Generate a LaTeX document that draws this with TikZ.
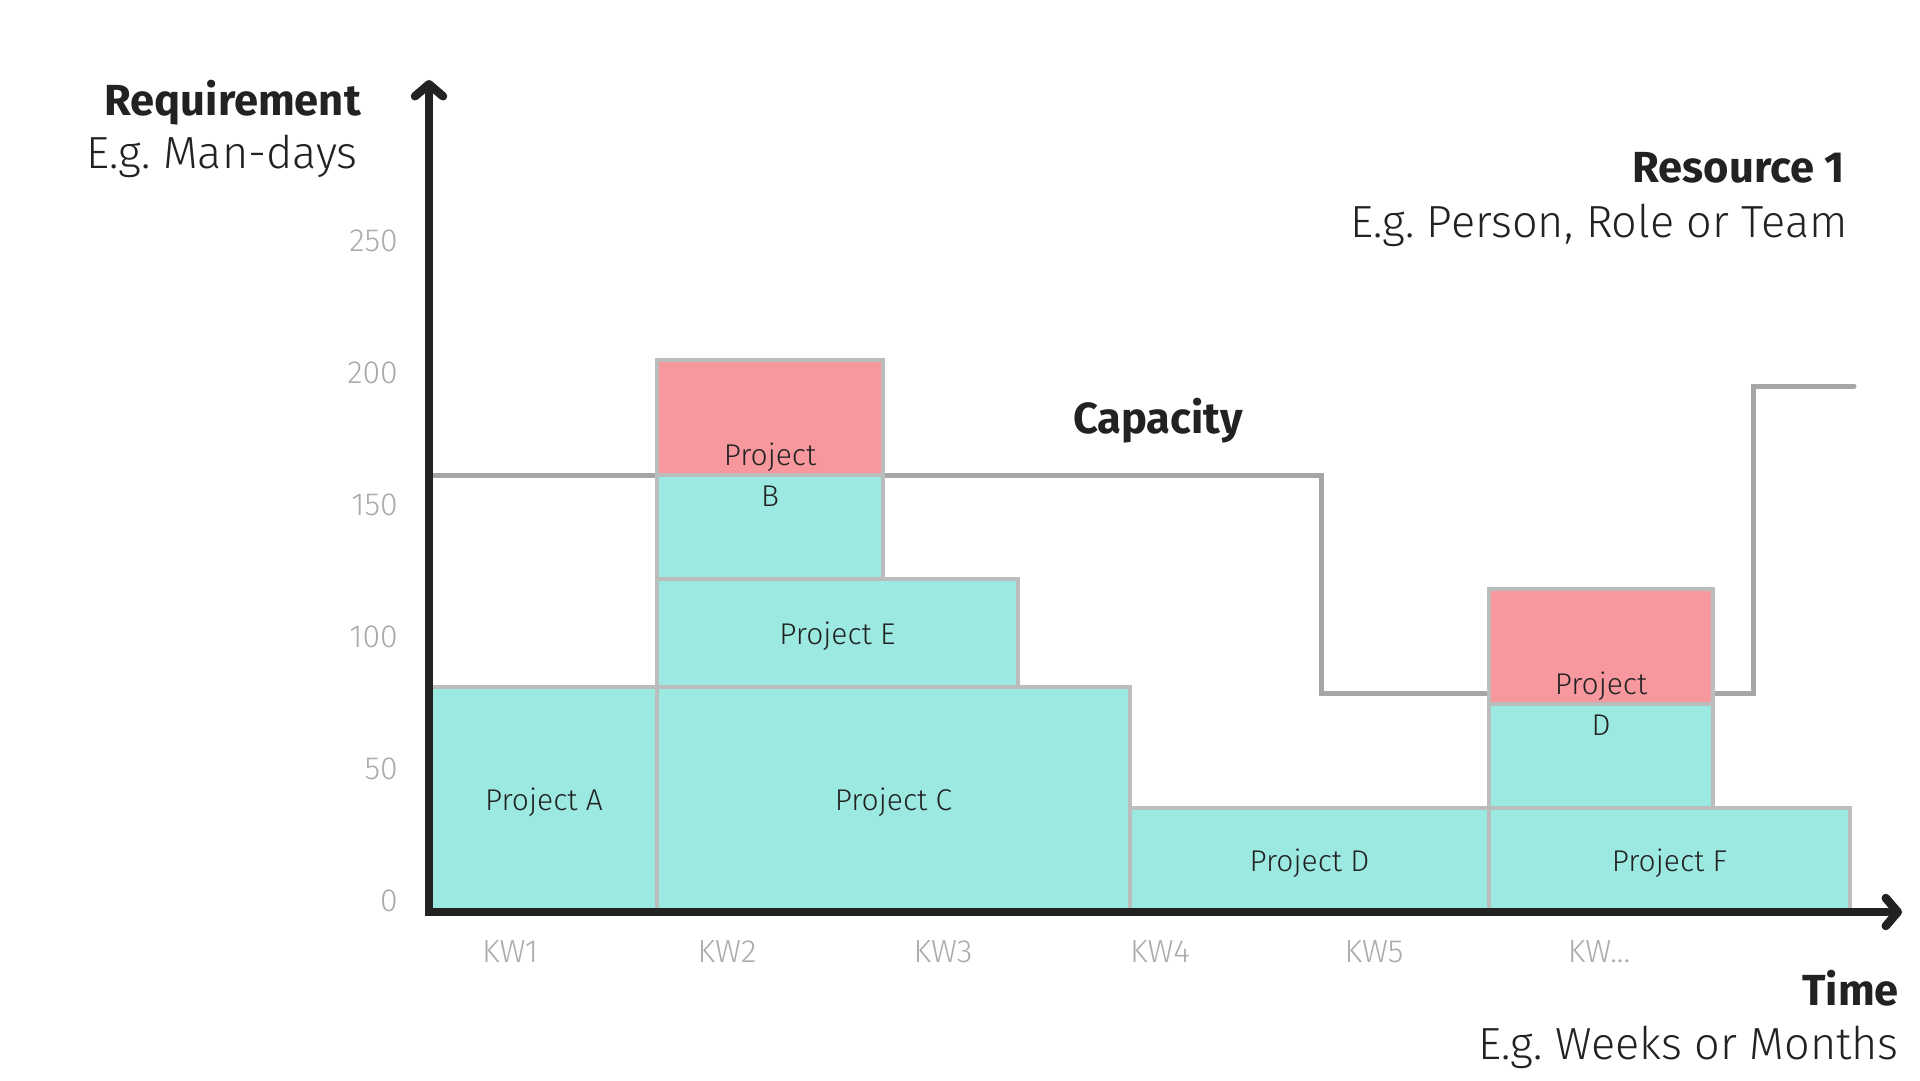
\documentclass[tikz,border=0pt]{standalone}
\usepackage{fontspec}
\setmainfont{Fira Sans Light}[BoldFont={Fira Sans Bold}]
\usetikzlibrary{arrows.meta}
\definecolor{ink}{HTML}{222222}
\definecolor{tealfill}{HTML}{9BE9E0}
\definecolor{pinkfill}{HTML}{F7989F}
\definecolor{barline}{HTML}{BBBDBD}
\definecolor{capline}{HTML}{A6A6A6}
\definecolor{ticktext}{HTML}{ABABAB}
\newcommand\kwmore{KW...}
\frenchspacing
\tikzset{
  bar/.style={draw=barline, line width=4pt, fill=tealfill, inner sep=0pt, outer sep=0pt,
    anchor=south west, text=ink, text depth=0pt, font=\fontsize{30}{41}\selectfont},
  overbar/.style={bar, fill=pinkfill},
  ticklabel/.style={text=ticktext, font=\fontsize{32}{38}\selectfont, inner sep=0pt},
  heading/.style={text=ink, font=\fontsize{43.5}{50}\selectfont\bfseries, inner sep=0pt, anchor=base east},
  subheading/.style={text=ink, font=\fontsize{45}{52}\selectfont, inner sep=0pt, anchor=base east},
}
\begin{document}
\begin{tikzpicture}[x=1pt, y=-1pt]
\path[use as bounding box, fill=white] (0,0) rectangle (1920,1080);
% Capacity
\draw[capline, line width=5pt, line cap=round]
    (428,475) -- (1321,475) -- (1321,693) -- (1753,693) -- (1753,386) -- (1854,386);
\node[heading, anchor=base] (cap) at (1158,433) {Capacity};
% Bars
\node[bar, minimum width=226, minimum height=225] (pa) at (431,912) {Project A};
\node[bar, minimum width=473, minimum height=225] (pc) at (657,912) {Project C};
\node[bar, minimum width=361, minimum height=108] (pe) at (657,687) {Project E};
\node[bar, minimum width=226, minimum height=104] (pbl) at (657,579) {};
\node[overbar, minimum width=226, minimum height=115] (pbu) at (657,475) {};
\node[bar, minimum width=359, minimum height=104] (pd) at (1130,912) {Project D};
\node[bar, minimum width=361, minimum height=104] (pf) at (1489,912) {Project F};
\node[bar, minimum width=224, minimum height=104] (pdl) at (1489,808) {};
\node[overbar, minimum width=224, minimum height=115] (pdu) at (1489,704) {};
\node[bar, draw=none, fill=none, anchor=center, align=center] (lb) at (pbl.north) {Project\\B};
\node[bar, draw=none, fill=none, anchor=center, align=center] (ld) at (pdl.north) {Project\\D};
% Axes
\coordinate (origin) at (429,912);
\coordinate (ytip) at (429,80);
\coordinate (xtip) at (1902,912);
\draw[ink, line width=8.5pt, {Straight Barb[length=12pt, width=28pt, round]}-{Straight Barb[length=12pt, width=28pt, round]}]
    (ytip) -- (origin) -- (xtip);
\foreach \v [count=\i from 0] in {0,50,100,150,200,250}
  \node[ticklabel, anchor=base east] (y\v) at (398,911-\i*132) {\v};
\foreach \x/\t [count=\i] in {510/KW1, 727/KW2, 943/KW3, 1160/KW4, 1374/KW5, 1599/\kwmore}
  \node[ticklabel, anchor=base] (kw\i) at (\x,962) {\t};
% Titles
\node[heading] (req) at (361,115) {Requirement};
\node[subheading] (reqsub) at (358,168) {E.g. Man-days};
\node[heading] (res) at (1845,182) {Resource 1};
\node[subheading] (ressub) at (1848,237) {E.g. Person, Role or Team};
\node[heading] (time) at (1899,1005) {Time};
\node[subheading] (timesub) at (1899,1059) {E.g. Weeks or Months};
\end{tikzpicture}
\end{document}
